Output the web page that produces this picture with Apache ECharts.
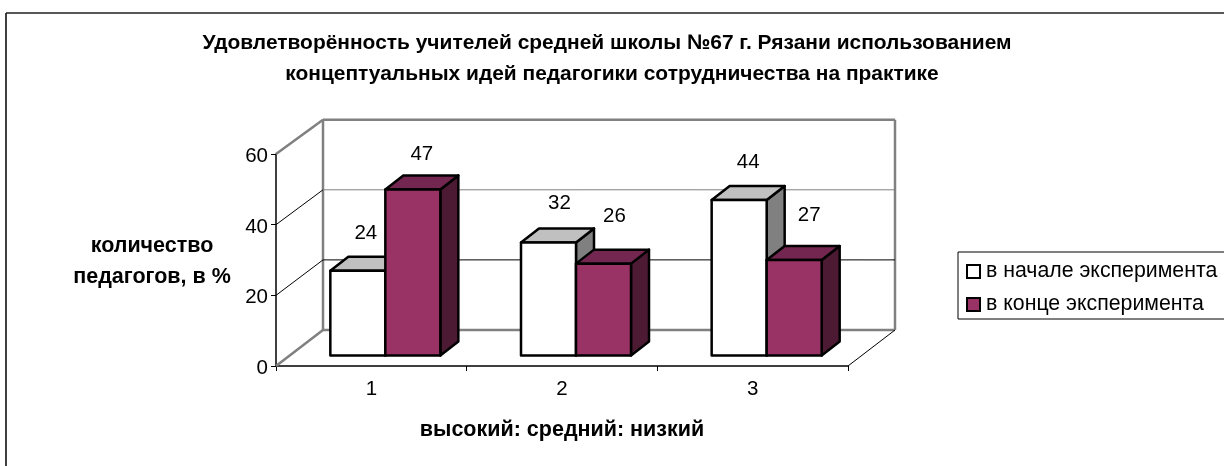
<!DOCTYPE html>
<html><head><meta charset="utf-8">
<style>html,body{margin:0;padding:0;background:#fff}#c{width:1224px;height:466px}</style>
<script src="https://cdn.jsdelivr.net/npm/echarts@6/dist/echarts.min.js"></script>
</head><body><div id="c"></div>
<script>
const categories = ['1', '2', '3'];
const startValues = [24, 32, 44];
const endValues = [47, 26, 27];
const yTicks = [0, 20, 40, 60];
const seriesNames = ['в начале эксперимента', 'в конце эксперимента'];
const titleLines = ['Удовлетворённость учителей средней школы №67 г. Рязани использованием', 'концептуальных идей педагогики сотрудничества на практике'];
const yName = 'количество\nпедагогов, в %';
const xName = 'высокий: средний: низкий';

const FONT = '"Liberation Sans", Arial, sans-serif';
const WALL = {dx: 47, dy: -36, shrink: 0.992};
const BAR = {dx: 18, dy: -14, inX: 14, inY: -10.5, width: 55};
const LABEL_NUDGE = [[[8, -37], [11, -39], [9, -38]], [[9, -35], [11, -47], [15, -45]]];
const PAL = [
  {front: '#ffffff', top: '#c0c0c0', side: '#808080'},
  {front: '#993366', top: '#732650', side: '#4d1a33'}
];

function wallItem(params, api) {
  const v = api.value(0), cs = params.coordSys;
  const y = api.coord([0, v])[1], base = api.coord([0, yTicks[0]])[1], x0 = cs.x, x1 = cs.x + cs.width;
  const back = yy => base + WALL.dy + (yy - base) * WALL.shrink;
  const edge = v === yTicks[0] || v === yTicks[yTicks.length - 1];
  const thick = {stroke: '#808080', lineWidth: 2.5};
  const thin = {stroke: '#000000', lineWidth: 1};
  const backStyle = edge ? thick : {stroke: v === 40 ? '#808080' : '#000000', lineWidth: 1};
  const kids = [
    {type: 'line', shape: {x1: x0, y1: y, x2: x0 + WALL.dx, y2: back(y)}, style: edge ? thick : thin},
    {type: 'line', shape: {x1: x0 + WALL.dx, y1: back(y), x2: x1 + WALL.dx, y2: back(y)}, style: backStyle}
  ];
  if (v === yTicks[0]) {
    const top = api.coord([0, yTicks[yTicks.length - 1]])[1];
    kids.push({type: 'line', shape: {x1: x0 + WALL.dx, y1: back(y), x2: x0 + WALL.dx, y2: back(top)}, style: thick});
    kids.push({type: 'line', shape: {x1: x1 + WALL.dx, y1: back(y), x2: x1 + WALL.dx, y2: back(top)}, style: thick});
    kids.push({type: 'line', shape: {x1: x1, y1: y, x2: x1 + WALL.dx, y2: back(y)}, style: thin});
  }
  return {type: 'group', children: kids};
}

function barRenderer(seriesIndex) {
  const pal = PAL[seriesIndex];
  return function (params, api) {
    const i = api.value(0), v = api.value(1);
    const top = api.coord([i, v]), base = api.coord([i, 0]);
    const c = top[0] + BAR.inX;
    const l = seriesIndex === 0 ? c - BAR.width : c, r = l + BAR.width;
    const yt = top[1] + BAR.inY, yb = base[1] + BAR.inY;
    const d = {stroke: '#000000', lineWidth: 2.5, lineJoin: 'round'};
    const poly = (pts, fill) => ({type: 'polygon', shape: {points: pts}, style: Object.assign({fill}, d)});
    const n = LABEL_NUDGE[seriesIndex][i];
    return {type: 'group', children: [
      poly([[r, yt], [r + BAR.dx, yt + BAR.dy], [r + BAR.dx, yb + BAR.dy], [r, yb]], pal.side),
      poly([[l, yt], [l + BAR.dx, yt + BAR.dy], [r + BAR.dx, yt + BAR.dy], [r, yt]], pal.top),
      poly([[l, yt], [r, yt], [r, yb], [l, yb]], pal.front),
      {type: 'text', style: {x: (l + r) / 2 + n[0], y: yt + n[1], text: String(v), fill: '#000', fontSize: 20.5,
        fontFamily: FONT, align: 'center', verticalAlign: 'middle'}}
    ]};
  };
}

function barData(vals) { return vals.map((v, i) => [i, v]); }

const titleStyle = {fontFamily: FONT, fontSize: 20.95, fontWeight: 'bold', color: '#000'};
const option = {
  animation: false,
  backgroundColor: '#ffffff',
  title: [
    {text: titleLines[0], left: 607, top: 33, textAlign: 'center', padding: 0, textStyle: titleStyle},
    {text: titleLines[1], left: 612, top: 64, textAlign: 'center', padding: 0, textStyle: titleStyle}
  ],
  grid: {left: 276, right: 376, top: 154, bottom: 100},
  legend: {
    orient: 'vertical', left: 958, top: 252, width: 320,
    padding: [9, 40, 4, 8], itemGap: 12, itemWidth: 13, itemHeight: 13,
    borderColor: '#000', borderWidth: 1, icon: 'rect', selectedMode: false,
    textStyle: {fontFamily: FONT, fontSize: 21.3, color: '#000', padding: [0, 0, 0, 1]},
    data: [
      {name: seriesNames[0], itemStyle: {color: PAL[0].front, borderColor: '#000', borderWidth: 2}},
      {name: seriesNames[1], itemStyle: {color: PAL[1].front, borderColor: '#000', borderWidth: 2}}
    ]
  },
  xAxis: {
    type: 'category', data: categories, boundaryGap: true,
    name: xName, nameLocation: 'middle', nameGap: 53,
    nameTextStyle: {fontFamily: FONT, fontSize: 21.5, fontWeight: 'bold', color: '#000'},
    axisLine: {lineStyle: {color: '#000', width: 1.5}},
    axisTick: {show: true, length: 5, alignWithLabel: false, lineStyle: {color: '#000'}},
    axisLabel: {fontFamily: FONT, fontSize: 20.5, color: '#000', margin: 13},
    splitLine: {show: false}
  },
  yAxis: {
    type: 'value', min: 0, max: 60, interval: 20,
    axisLine: {show: true, lineStyle: {color: '#000', width: 1.5}},
    axisTick: {show: true, length: 5, lineStyle: {color: '#000'}},
    axisLabel: {fontFamily: FONT, fontSize: 20.5, color: '#000', margin: 8, verticalAlign: 'top', lineHeight: 5},
    splitLine: {show: false}
  },
  graphic: [
    {type: 'line', shape: {x1: 6, y1: 13, x2: 6, y2: 466}, style: {stroke: '#404040', lineWidth: 2}, silent: true},
    {type: 'line', shape: {x1: 6, y1: 13, x2: 1224, y2: 13}, style: {stroke: '#202020', lineWidth: 1.5}, silent: true},
    {type: 'text', silent: true, style: {x: 152, y: 262, text: yName, fill: '#000', fontFamily: FONT, fontSize: 21.5, fontWeight: 'bold',
      lineHeight: 31, align: 'center', verticalAlign: 'middle'}}
  ],
  series: [
    {type: 'custom', name: 'стенки', coordinateSystem: 'cartesian2d', clip: false, silent: true, z: 1,
      renderItem: wallItem, encode: {y: 0}, data: yTicks.map(v => [v])},
    {type: 'custom', name: seriesNames[0], coordinateSystem: 'cartesian2d', clip: false, silent: true, z: 3,
      renderItem: barRenderer(0), encode: {x: 0, y: 1}, data: barData(startValues)},
    {type: 'custom', name: seriesNames[1], coordinateSystem: 'cartesian2d', clip: false, silent: true, z: 4,
      renderItem: barRenderer(1), encode: {x: 0, y: 1}, data: barData(endValues)}
  ]
};
echarts.init(document.getElementById('c'), null, {renderer: 'canvas'}).setOption(option);
</script></body></html>
